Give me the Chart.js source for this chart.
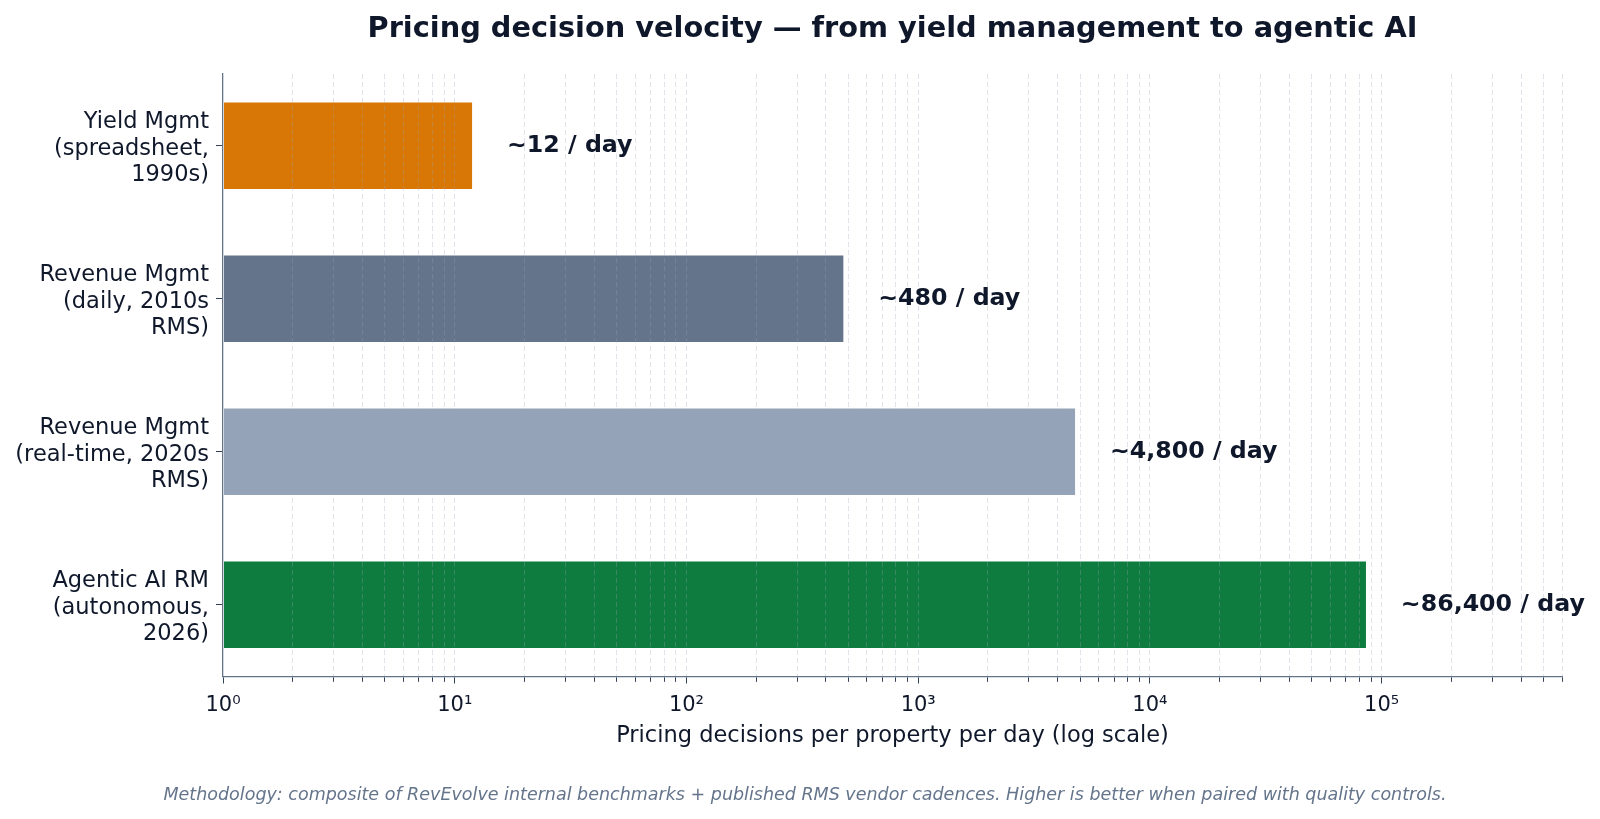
<!DOCTYPE html>
<html>
<head>
<meta charset="utf-8">
<script src="https://cdn.jsdelivr.net/npm/chart.js@4.4.1/dist/chart.umd.min.js"></script>
<style>
  html, body { margin: 0; padding: 0; background: #fff; }
  #wrap { width: 1600px; height: 819px; }
</style>
</head>
<body>
<div id="wrap"><canvas id="myChart" width="1600" height="819"></canvas></div>
<script>
// values
const categories = [
  ['Yield Mgmt', '(spreadsheet,', '1990s)'],
  ['Revenue Mgmt', '(daily, 2010s', 'RMS)'],
  ['Revenue Mgmt', '(real-time, 2020s', 'RMS)'],
  ['Agentic AI RM', '(autonomous,', '2026)']
];
const decisionsPerDay = [12, 480, 4800, 86400];
const valueLabels = ['~12 / day', '~480 / day', '~4,800 / day', '~86,400 / day'];
const barColors = ['#d97706', '#64748b', '#94a3b8', '#0e7c3f'];
const decadeLabels = ['10⁰', '10¹', '10²', '10³', '10⁴', '10⁵'];

const titleText = 'Pricing decision velocity — from yield management to agentic AI';
const xAxisTitle = 'Pricing decisions per property per day (log scale)';
const footNote = 'Methodology: composite of RevEvolve internal benchmarks + published RMS vendor cadences. Higher is better when paired with quality controls.';

const ink = '#0f172a';
const slate = '#64748b';
const gridColor = 'rgba(148,163,184,0.3)';
const xMin = 1;
const xMax = 600000;

// log ticks 1..9 x 10^k, like matplotlib's minor locator
const logTicks = [];
for (let e = 0; e <= 5; e++) {
    for (let m = 1; m <= 9; m++) {
        const v = m * Math.pow(10, e);
        if (v <= xMax) logTicks.push({ value: v, major: m === 1 });
    }
}

// bars sit on a numeric y axis so the margins match the picture
const barPoints = decisionsPerDay.map((v, i) => ({ x: v, y: i }));

// title, value labels, axis title and footnote
const textPlugin = {
    id: 'texts',
    afterDraw(chart) {
        const { ctx, chartArea, scales } = chart;
        const mid = (chartArea.left + chartArea.right) / 2;
        ctx.save();
        ctx.fillStyle = ink;
        ctx.textAlign = 'center';
        ctx.textBaseline = 'alphabetic';
        ctx.font = 'bold 28.8px "DejaVu Sans"';
        ctx.fillText(titleText, mid, 37);

        ctx.font = '22.5px "DejaVu Sans"';
        ctx.fillText(xAxisTitle, mid, 742);

        ctx.font = 'italic 17.5px "DejaVu Sans"';
        ctx.fillStyle = slate;
        ctx.fillText(footNote, 805, 800);

        ctx.font = 'bold 23.7px "DejaVu Sans"';
        ctx.fillStyle = ink;
        ctx.textAlign = 'left';
        ctx.textBaseline = 'middle';
        chart.getDatasetMeta(0).data.forEach((bar, i) => {
            ctx.fillText(valueLabels[i], scales.x.getPixelForValue(decisionsPerDay[i] * 1.4), bar.y);
        });
        ctx.restore();
    }
};

const ctx = document.getElementById('myChart');
const myChart = new Chart(ctx, {
    type: 'bar',
    data: {
        datasets: [{
            data: barPoints,
            backgroundColor: barColors,
            borderColor: 'rgba(255,255,255,0.45)',
            borderWidth: 1,
            borderSkipped: false,
            categoryPercentage: 1,
            barPercentage: 0.58
        }]
    },
    options: {
        indexAxis: 'y',
        responsive: false,
        animation: false,
        devicePixelRatio: 1,
        layout: { padding: { top: 74, right: 38, bottom: 0, left: 0 } },
        plugins: {
            legend: { display: false },
            title: { display: false },
            tooltip: { enabled: false }
        },
        scales: {
            x: {
                type: 'logarithmic',
                min: xMin,
                max: xMax,
                afterBuildTicks: (scale) => { scale.ticks = logTicks.map(t => ({ ...t })); },
                afterFit: (scale) => { scale.height = 142.5; },
                ticks: {
                    autoSkip: false,
                    maxRotation: 0,
                    padding: 9,
                    color: ink,
                    font: { family: '"DejaVu Sans"', size: 21 },
                    callback: (value) => {
                        const e = Math.round(Math.log10(value));
                        return Math.abs(value - Math.pow(10, e)) < 1e-6 ? decadeLabels[e] : '';
                    }
                },
                grid: {
                    z: 1,
                    lineWidth: 1,
                    color: (c) => (c.tick && c.tick.value === xMin) ? 'rgba(0,0,0,0)' : gridColor,
                    tickLength: 7,
                    tickColor: '#334155',
                    tickWidth: 1,
                    tickBorderDash: (c) => (c.tick && c.tick.major) ? [] : [4.5, 20]
                },
                border: { color: slate, width: 1.3, dash: [5, 3], z: 2 }
            },
            y: {
                type: 'linear',
                reverse: true,
                offset: false,
                min: -0.469,
                max: 3.469,
                afterBuildTicks: (scale) => { scale.ticks = categories.map((c, i) => ({ value: i })); },
                afterFit: (scale) => { scale.width = 223; },
                ticks: {
                    autoSkip: false,
                    padding: 7,
                    labelOffset: 3,
                    color: ink,
                    font: { family: '"DejaVu Sans"', size: 22.5, lineHeight: 1.16 },
                    callback: (value) => categories[value] || ''
                },
                grid: {
                    offset: false,
                    drawOnChartArea: false,
                    tickLength: 7,
                    tickColor: '#334155',
                    tickWidth: 1
                },
                border: { color: slate, width: 1.3, z: 2 }
            }
        }
    },
    plugins: [textPlugin]
});
</script>
</body>
</html>
